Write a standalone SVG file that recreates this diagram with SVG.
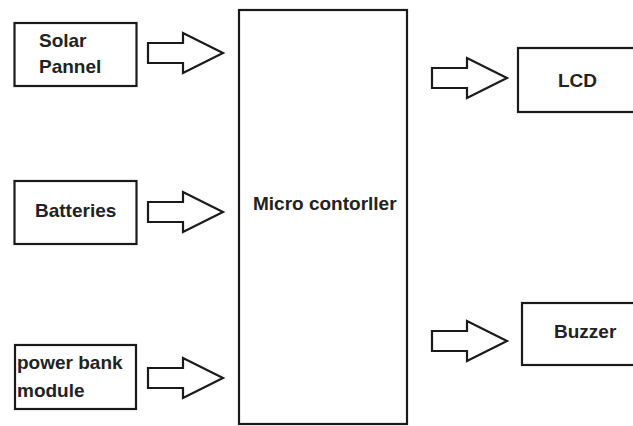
<svg xmlns="http://www.w3.org/2000/svg" xmlns:xlink="http://www.w3.org/1999/xlink" width="633" height="426" viewBox="0 0 633 426">
<style>
.box{fill:#fff;stroke:#1a1a1a;stroke-width:2.2}
.arrow{fill:#fff;stroke:#1a1a1a;stroke-width:2.2;stroke-linejoin:miter}
.lbl{font-family:"Liberation Sans",Arial,sans-serif;font-weight:bold;font-size:19px;fill:#222}
</style>
<defs>
<path id="blk" class="arrow" d="M0,-10 H35 V-20 L75,0 L35,20 V10 H0 Z"/>
</defs>
<rect width="633" height="426" fill="#fff"/>
<g id="connectors">
<use xlink:href="#blk" x="148" y="53"/>
<use xlink:href="#blk" x="148" y="212"/>
<use xlink:href="#blk" x="148" y="378"/>
<use xlink:href="#blk" x="432" y="78"/>
<use xlink:href="#blk" x="432" y="341"/>
</g>
<g id="solar">
<rect class="box" x="14.5" y="23" width="122" height="63"/>
<text class="lbl" x="39" y="47">Solar</text>
<text class="lbl" x="39" y="73">Pannel</text>
</g>
<g id="batteries">
<rect class="box" x="14.5" y="181" width="122" height="63"/>
<text class="lbl" x="35" y="217">Batteries</text>
</g>
<g id="powerbank">
<rect class="box" x="15" y="345" width="121" height="64"/>
<text class="lbl" x="17" y="369">power bank</text>
<text class="lbl" x="17" y="397">module</text>
</g>
<g id="micro">
<rect class="box" x="239" y="10" width="168" height="414"/>
<text class="lbl" x="253" y="210">Micro contorller</text>
</g>
<g id="lcd">
<rect class="box" x="518" y="48" width="130" height="64"/>
<text class="lbl" x="558" y="87">LCD</text>
</g>
<g id="buzzer">
<rect class="box" x="522" y="303" width="130" height="62"/>
<text class="lbl" x="554" y="338">Buzzer</text>
</g>
</svg>
